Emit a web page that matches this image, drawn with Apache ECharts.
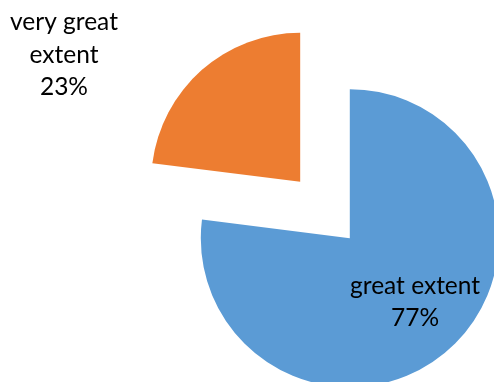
<!DOCTYPE html>
<html>
<head>
<meta charset="utf-8">
<script src="https://cdn.jsdelivr.net/npm/echarts@6/dist/echarts.min.js"></script>
<style>
html,body{margin:0;padding:0;background:#fff;}
#chart{width:494px;height:382px;}
</style>
</head>
<body>
<div id="chart"></div>
<script>
var categories = ['great extent', 'very great extent'];
var values = [77, 23];
var colors = ['#5B9BD5', '#ED7D31'];

var chart = echarts.init(document.getElementById('chart'), null, {renderer: 'canvas'});
var data = categories.map(function (c, i) {
  return {name: c, value: values[i], selected: true, itemStyle: {color: colors[i]}};
});
chart.setOption({
  animation: false,
  series: [{
    type: 'pie',
    center: [325, 210],
    radius: [0, 149],
    startAngle: 90,
    clockwise: true,
    selectedMode: 'multiple',
    selectedOffset: 37.5,
    emphasis: {disabled: true},
    avoidLabelOverlap: false,
    data: data,
    label: {
      show: true,
      position: 'inside',
      fontFamily: 'Lato',
      fontSize: 24.5,
      lineHeight: 32.5,
      color: '#000',
      align: 'center',
      formatter: function (p) {
        var n = p.name === 'very great extent' ? 'very great\nextent' : p.name;
        return n + '\n' + Math.round(p.percent) + '%';
      }
    },
    labelLine: {show: false},
    labelLayout: function (p) {
      if (p.dataIndex === 1) {
        return {dx: -185, dy: -69};
      }
      return {dx: 14, dy: 6};
    }
  }]
});
</script>
</body>
</html>
